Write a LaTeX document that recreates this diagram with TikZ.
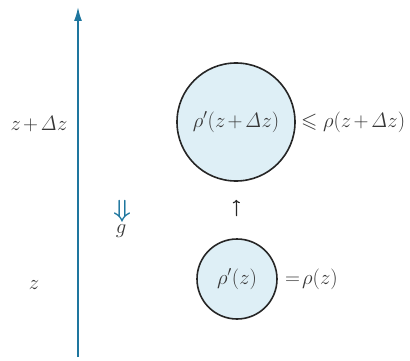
\documentclass[tikz,border=0pt]{standalone}
\usepackage{amsmath,amssymb}
\usetikzlibrary{arrows.meta}
\begin{document}
\begin{tikzpicture}[x=1pt,y=-1pt,
  every node/.style={text=txt,font=\fontsize{21}{23}\selectfont,execute at begin node={\medmuskip=2mu}},
  bubble/.style={circle,draw=black!85,line width=1.6pt,fill=fillb,inner sep=0pt},
  axis/.style={draw=axc,line width=1.6pt,-{Latex[length=14pt,width=8pt]}}]
\definecolor{axc}{RGB}{30,118,158}
\definecolor{fillb}{RGB}{222,239,246}
\definecolor{txt}{RGB}{55,55,55}
\useasboundingbox (0,0) rectangle (410,361);
\coordinate (abot) at (78,357);
\coordinate (atop) at (78,7);
\draw[axis] (abot) -- (atop);
\node (lz2) at (39,124) {$z+\mathit{\Delta} z$};
\node (lz1) at (34,285) {$z$};
\node[bubble,minimum size=118pt] (big) at (236,122) {$\rho'(z+\mathit{\Delta} z)$};
\node[bubble,minimum size=80pt] (small) at (237,279) {$\rho'(z)$};
\node[anchor=west,inner sep=1pt] (rbig) at ([xshift=4pt]big.east) {$\leqslant\rho(z+\mathit{\Delta} z)$};
\node[anchor=west,inner sep=1pt] (rsmall) at ([xshift=6pt]small.east) {$=\!\rho(z)$};
\node[text=axc,font=\fontsize{24}{26}\selectfont] (dn) at (122,211) {$\boldsymbol{\Downarrow}$};
\node (g) at (121,231) {$g$};
\draw[-{To[length=3.5pt]},line width=1.2pt,black!85,shorten <=22pt,shorten >=18pt] (small.north) -- (big.south);
\end{tikzpicture}
\end{document}
